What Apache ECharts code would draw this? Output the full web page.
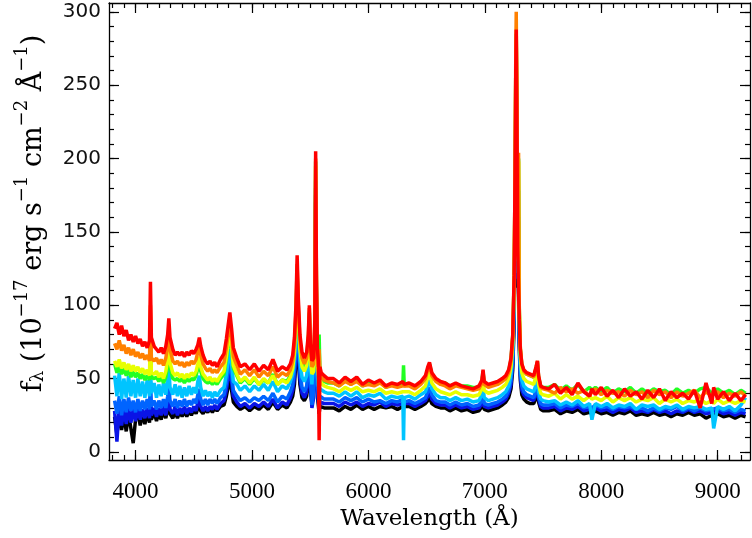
<!DOCTYPE html>
<html>
<head>
<meta charset="utf-8">
<script src="https://cdn.jsdelivr.net/npm/echarts@6/dist/echarts.min.js"></script>
<style>html,body{margin:0;padding:0;background:#fff}#c{width:752px;height:538px}</style>
</head>
<body>
<div id="c"></div>
<script>
// wavelength grid (Angstrom)
const wave = [
  3820,3840,3860,3880,3900,3920,3940,3960,3980,4000,4020,4040,4060,4080,4100,4120,4128,4136,4160,4180,
  4200,4220,4240,4260,4276,4286,4296,4320,4340,4360,4380,4400,4420,4440,4460,4480,4500,4520,4535,4548,
  4560,4580,4600,4620,4640,4660,4680,4700,
  4730,4760,4780,4795,4810,4825,4840,4870,4900,4940,4980,5020,5060,5100,5140,5180,5220,5260,5300,
  5330,5350,5365,5378,5388,5398,5412,5430,5450,5470,5484,5493,5502,5515,5530,5540,5547,5554,5562,5570,
  5577,5584,5595,5620,5650,
  5700,5750,5800,5850,5900,5950,6000,6050,6100,6150,6200,6250,6296,6302,6308,6350,6400,6450,6490,6510,
  6525,6545,6580,6620,6660,6700,6750,6800,6850,6900,6950,6975,6985,6995,7030,7070,7110,7150,
  7180,7205,7225,7240,7252,7260,7266,7270,7275,7282,7290,7296,7305,7318,7335,7360,7390,7420,7440,7452,
  7462,7480,7500,
  7550,7600,7650,7700,7750,7800,7850,7900,7920,7950,8000,8050,8100,8150,8200,8250,8300,8350,8400,8450,
  8500,8550,8600,8650,8700,8750,8800,8850,8900,8950,8966,9000,9050,9100,9150,9200,9240
];

const fluxBlack = [
  24,12,27,15,25,14,26,16,6,22, 27,18,26,19,27,20,36,22,27,21, 27,22,28,23,29,35,26,23,28,23, 28,24,28,24,28,25,29,26,30,34, 28,26,29,27,30,27,30,28,
  31,32,38,44,50,42,34,31,29,31, 28,31,29,32,29,34,29,32,30,
  34,38,46,62,84,64,46,37,35,38, 48,72,42,33,34,62,170,85,38,32, 26,31,31,30,30,
  30,28,31,29,32,29,31,29,31,30, 31,29,31,31,30,31,29,31,33,35, 37,33,31,30,30,28,30,28,29,27, 28,31,34,29,28,29,30,32,
  34,37,43,56,88,140,205,230,190,112, 120,72,49,39,36,34,33,33,37,41, 34,29,28,
  28,29,26,28,27,29,26,27,26,28, 26,27,25,27,26,28,25,26,25,27, 25,26,24,26,25,27,25,26,23,25, 24,26,24,25,23,25,24
];
const fluxBlue = [
  28,7,31,18,29,19,30,20,29,21, 30,22,29,23,30,23,42,25,30,24, 30,25,31,25,32,40,29,26,31,25, 30,26,31,26,30,27,31,28,34,38, 31,28,31,28,31,29,32,29,
  33,35,42,50,56,48,38,34,31,33, 30,33,31,34,31,36,30,34,32,
  37,42,51,68,90,70,50,40,37,41, 52,76,46,30,37,66,175,90,42,35, 28,34,33,33,33,
  33,31,34,32,34,31,33,32,34,31, 33,32,33,33,32,33,31,33,35,38, 41,36,33,32,32,30,32,30,31,29, 30,33,37,31,30,31,32,34,
  36,40,46,60,94,148,212,238,198,118, 157,76,52,42,39,37,36,35,40,44, 36,31,30,
  30,31,28,30,29,31,28,29,28,30, 28,29,27,29,28,30,27,28,27,29, 27,28,26,28,27,29,27,28,26,27, 26,28,26,27,25,27,26
];
const fluxRoyal = [
  35,26,38,25,36,27,37,28,35,27, 36,28,35,29,36,29,48,31,35,29, 35,30,36,30,38,46,35,31,36,30, 35,31,36,31,35,32,36,33,39,43, 36,32,36,32,36,33,36,33,
  37,39,47,55,62,53,42,38,35,37, 34,37,35,38,35,40,34,38,36,
  41,46,56,74,96,76,55,44,41,45, 57,80,50,32,41,70,180,95,46,39, 30,38,37,36,36,
  36,34,37,35,37,34,36,34,35,33, 35,34,36,35,34,35,33,35,37,41, 44,39,35,34,34,32,34,32,33,31, 32,35,40,33,32,33,34,36,
  38,42,49,63,98,155,220,245,205,122, 160,80,55,45,41,39,38,37,42,46, 38,33,32,
  32,33,30,32,31,33,30,31,30,32, 30,31,29,31,30,31,29,30,28,30, 28,30,29,31,28,30,28,30,28,29, 28,30,28,29,27,29,28
];
const fluxCyan = [
  52,38,54,36,50,37,52,38,49,37, 50,38,48,37,49,38,62,40,47,37, 46,38,47,39,50,58,44,39,46,38, 45,37,44,38,45,39,44,40,48,52, 44,38,42,38,41,37,41,38,
  42,44,53,62,70,60,48,46,42,45, 41,45,42,46,42,48,41,45,43,
  48,53,63,82,105,84,62,51,48,52, 64,86,57,46,47,75,185,100,52,45, 44,43,42,41,40,
  40,38,41,38,41,37,39,38,40,36, 38,37,38,8,37,38,36,39,41,46, 49,43,39,37,37,35,37,35,36,34, 35,39,45,37,35,36,37,39,
  41,45,53,68,104,165,230,255,215,130, 178,86,60,49,45,43,42,41,46,50, 41,36,35,
  34,35,32,34,32,35,31,33,22,33, 31,33,30,32,31,33,29,32,31,32, 29,31,30,32,29,31,30,31,29,30, 16,31,29,31,28,32,37
];
const fluxGreen = [
  60,54,58,53,57,52,56,51,55,51, 54,50,53,49,52,49,84,51,50,51, 48,51,47,51,59,72,58,50,49,50, 48,50,47,50,48,50,49,52,57,62, 55,50,48,47,48,46,48,46,
  50,53,63,72,82,70,57,52,47,50, 46,50,46,49,47,53,46,49,48,
  52,58,70,92,122,96,72,60,57,61, 74,95,66,55,57,84,198,110,62,55, 80,53,52,48,47,
  47,45,49,46,49,45,47,46,48,44, 46,45,46,59,45,46,44,47,50,56, 60,53,49,47,47,45,46,45,45,44, 44,48,55,46,45,46,47,49,
  51,55,63,79,118,185,260,285,240,145, 200,98,70,59,55,53,52,51,57,61, 51,45,44,
  44,46,42,45,42,46,41,44,42,44, 41,44,40,43,41,44,40,43,40,43, 41,42,39,43,40,42,40,43,44,40, 41,43,40,42,39,42,40
];
const fluxYellow = [
  62,58,63,57,61,56,60,55,59,55, 58,54,57,53,56,52,88,54,53,55, 51,54,50,55,63,76,61,54,52,54, 51,53,50,53,51,54,52,55,60,65, 58,53,51,49,51,48,50,48,
  52,55,65,74,84,72,59,53,48,51, 47,51,46,50,47,52,46,49,47,
  51,57,68,90,120,94,70,58,55,59, 72,92,64,53,55,82,195,108,60,53, 50,51,47,45,44,
  43,41,44,42,44,41,42,41,43,40, 41,40,41,41,40,41,39,42,45,51, 54,47,43,41,40,39,41,39,39,38, 39,43,50,42,40,41,42,44,
  46,50,58,74,112,180,255,280,235,140, 198,94,66,54,50,48,47,46,52,57, 46,40,39,
  38,40,36,39,36,38,35,38,36,37, 35,38,34,37,35,37,34,36,35,37, 33,36,34,36,33,35,34,36,33,35, 33,36,33,35,33,35,34
];
const fluxOrange = [
  74,70,76,69,73,67,71,66,70,65, 68,64,67,63,66,62,100,64,62,64, 60,63,59,64,72,84,70,62,60,62, 59,61,58,61,59,62,60,63,68,72, 66,60,57,55,57,54,56,54,
  58,61,71,80,90,78,65,59,53,56, 52,56,51,55,52,58,51,54,52,
  56,62,74,96,128,100,76,64,60,64, 78,98,70,58,60,88,200,115,66,58, 70,56,51,49,48,
  47,45,48,46,48,45,46,45,47,44, 45,44,45,45,44,45,43,46,50,56, 59,52,48,46,45,43,45,44,43,42, 43,47,54,46,44,45,46,48,
  50,54,62,78,118,190,270,300,250,150, 204,100,72,60,55,53,52,51,57,62, 51,44,43,
  42,40,44,41,43,40,42,38,41,43, 39,42,40,41,38,42,39,41,37,42, 39,41,37,41,38,40,42,37,41,38, 40,41,37,40,38,41,38
];
const fluxRed = [
  84,88,80,86,79,83,76,80,75,79, 74,77,72,75,71,76,116,78,72,70, 68,71,67,72,80,91,78,70,66,68, 66,68,65,68,66,69,67,70,73,78, 72,66,62,60,62,59,61,58,
  63,67,77,86,95,84,71,64,58,60, 56,60,55,59,56,63,55,58,56,
  60,66,78,100,134,105,80,68,64,68, 80,100,74,62,64,90,205,120,70,62, 8,58,54,52,50,
  50,47,51,48,51,46,49,47,49,45, 47,46,48,47,46,47,45,48,52,58, 61,54,50,48,47,45,47,45,44,43, 45,49,56,48,46,47,48,50,
  52,56,64,80,120,190,260,288,240,140, 110,90,70,60,56,54,53,52,58,62, 52,45,44,
  43,46,40,44,39,47,41,38,43,39, 44,38,42,37,43,38,41,36,42,37, 43,35,41,37,40,36,42,30,47,33, 44,36,41,35,40,35,39
];

const xMajor = [4000,5000,6000,7000,8000,9000];
const xMinor = [];
for (let v = 3800; v <= 9200; v += 100) xMinor.push(v);
const yMajor = [0,50,100,150,200,250,300];
const yMinor = [];
for (let v = 0; v <= 300; v += 10) yMinor.push(v);

const spectra = [
  {name:'epoch1', color:'#000000', flux:fluxBlack},
  {name:'epoch2', color:'#0a14e6', flux:fluxBlue},
  {name:'epoch3', color:'#0064ff', flux:fluxRoyal},
  {name:'epoch4', color:'#00c4ff', flux:fluxCyan},
  {name:'epoch5', color:'#22ff22', flux:fluxGreen},
  {name:'epoch6', color:'#e8ff00', flux:fluxYellow},
  {name:'epoch7', color:'#ff8000', flux:fluxOrange},
  {name:'epoch8', color:'#ff0000', flux:fluxRed}
];

const XMIN = 3772, XMAX = 9278, YMIN = -5.5, YMAX = 306;
const lineCol = '#000';
const plain = v => String(Math.round(v));

function xAx(pos, ticks, len, labels, showLine) {
  return {
    type:'value', position:pos, min:XMIN, max:XMAX,
    axisLine:{show:showLine, onZero:false, lineStyle:{color:lineCol, width:1.3}},
    axisTick:{show:true, inside:true, length:len, customValues:ticks, lineStyle:{color:lineCol, width:1.2}},
    axisLabel:{show:labels, customValues:ticks, formatter:plain, margin:20, color:'#000', fontFamily:'Liberation Serif', fontSize:23},
    splitLine:{show:false}
  };
}
function yAx(pos, ticks, len, labels, showLine) {
  return {
    type:'value', position:pos, min:YMIN, max:YMAX,
    axisLine:{show:showLine, onZero:false, lineStyle:{color:lineCol, width:1.3}},
    axisTick:{show:true, inside:true, length:len, customValues:ticks, lineStyle:{color:lineCol, width:1.2}},
    axisLabel:{show:labels, customValues:ticks, formatter:plain, margin:8, color:'#111', fontFamily:'DejaVu Sans', fontSize:20},
    splitLine:{show:false}
  };
}

const xAxes = [
  xAx('bottom', xMajor, 10, true, true),
  xAx('bottom', xMinor, 5, false, false),
  xAx('top', xMajor, 10, false, true),
  xAx('top', xMinor, 5, false, false)
];
xAxes[0].name = 'Wavelength (Å)';
xAxes[0].nameLocation = 'middle';
xAxes[0].nameGap = 45;
xAxes[0].nameTextStyle = {fontFamily:'DejaVu Serif', fontSize:23, color:'#000'};

const yAxes = [
  yAx('left', yMajor, 10, true, true),
  yAx('left', yMinor, 5, false, false),
  yAx('right', yMajor, 10, false, true),
  yAx('right', yMinor, 5, false, false)
];
yAxes[0].name = '{b|f}{sub|λ}{b| (10}{sup|−17}{b| erg s}{sup|−1}{b| cm}{sup|−2}{b| Å}{sup|−1}{b|)}';
yAxes[0].nameLocation = 'middle';
yAxes[0].nameRotate = 90;
yAxes[0].nameGap = 62;
yAxes[0].nameTextStyle = {
  color:'#000',
  padding:[0,0,0,36],
  rich:{
    b:{fontFamily:'DejaVu Serif', fontSize:27, lineHeight:34, verticalAlign:'bottom', color:'#000'},
    sup:{fontFamily:'DejaVu Serif', fontSize:18, lineHeight:18, verticalAlign:'top', color:'#000'},
    sub:{fontFamily:'DejaVu Serif', fontSize:18, lineHeight:18, verticalAlign:'bottom', color:'#000'}
  }
};

const series = spectra.map(s => ({
  name:s.name, type:'line', xAxisIndex:0, yAxisIndex:0,
  showSymbol:false, symbol:'none', silent:true, clip:true,
  lineStyle:{color:s.color, width:3.5},
  data: wave.map((w,i) => [w, s.flux[i]])
}));

spectra.forEach(s => { if (s.flux.length !== wave.length) console.warn(s.name, s.flux.length, wave.length); });

const chart = echarts.init(document.getElementById('c'), null, {renderer:'canvas'});
chart.setOption({
  backgroundColor:'#fff',
  animation:false,
  grid:{left:109, right:2, top:3, bottom:78, containLabel:false},
  xAxis:xAxes,
  yAxis:yAxes,
  series:series
});
</script>
</body>
</html>
